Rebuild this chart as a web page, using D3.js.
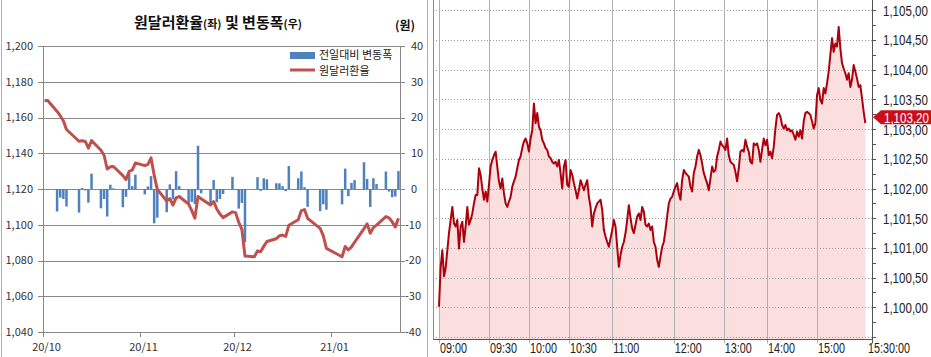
<!DOCTYPE html>
<html>
<head>
<meta charset="utf-8">
<script src="https://cdn.jsdelivr.net/npm/d3@7/dist/d3.min.js"></script>
<style>
body { margin: 0; background: #fff; }
svg { display: block; }
</style>
</head>
<body>
<div id="chart"></div>
<script>
// ---- left chart: daily close (left axis) + change vs prev day (right axis)
var dates = ["2020-10-01","2020-10-02","2020-10-05","2020-10-06","2020-10-07","2020-10-08","2020-10-12","2020-10-13","2020-10-14","2020-10-15",
  "2020-10-16","2020-10-19","2020-10-20","2020-10-21","2020-10-22","2020-10-23","2020-10-26","2020-10-27","2020-10-28","2020-10-29",
  "2020-10-30","2020-11-02","2020-11-03","2020-11-04","2020-11-05","2020-11-06","2020-11-09","2020-11-10","2020-11-11","2020-11-12",
  "2020-11-13","2020-11-16","2020-11-17","2020-11-18","2020-11-19","2020-11-20","2020-11-23","2020-11-24","2020-11-25","2020-11-26",
  "2020-11-27","2020-11-30","2020-12-01","2020-12-02","2020-12-03","2020-12-04","2020-12-07","2020-12-08","2020-12-09","2020-12-10",
  "2020-12-11","2020-12-14","2020-12-15","2020-12-16","2020-12-17","2020-12-18","2020-12-21","2020-12-22","2020-12-23","2020-12-24",
  "2020-12-28","2020-12-29","2020-12-30","2021-01-04","2021-01-05","2021-01-06","2021-01-07","2021-01-08","2021-01-11","2021-01-12",
  "2021-01-13","2021-01-14","2021-01-15","2021-01-18","2021-01-19","2021-01-20","2021-01-21","2021-01-22"];
var rates = [1169.5,1169.5,1163.4,1161.0,1158.2,1153.3,1146.7,1147.0,1146.6,1142.8,
  1147.1,1141.7,1138.9,1131.2,1132.4,1132.6,1127.5,1125.3,1129.8,1130.6,
  1134.6,1133.1,1133.8,1137.4,1127.8,1119.8,1113.3,1114.6,1111.0,1115.0,
  1115.8,1111.5,1107.9,1103.7,1115.8,1114.6,1111.0,1113.0,1108.8,1106.0,
  1104.0,1107.2,1106.8,1101.4,1097.4,1082.5,1082.1,1085.4,1084.9,1087.9,
  1090.6,1092.2,1093.8,1094.2,1093.5,1099.7,1102.8,1107.9,1108.5,1103.6,
  1098.0,1093.9,1086.8,1082.1,1087.8,1085.9,1087.6,1090.2,1097.8,1100.5,
  1095.3,1098.4,1099.8,1104.6,1103.9,1101.6,1098.7,1103.6];
var changes = [null,null,-6.3,-2.4,-2.8,-4.9,-6.6,0.3,-0.4,-3.8,
  4.3,-5.4,-2.8,-7.7,1.2,0.2,-5.1,-2.2,4.5,0.8,
  4.0,-1.5,0.7,3.6,-9.6,-8.0,-6.5,1.3,-2.9,5.0,
  0.8,-4.3,-3.6,-4.2,12.1,-1.2,-4.0,2.5,-3.7,-2.8,
  -1.4,3.4,-0.3,-5.5,-3.9,-14.9,-0.2,3.3,-0.5,3.0,
  2.7,1.6,1.6,0.8,-0.6,6.4,3.0,4.9,0.5,-5.0,
  -6.2,-4.3,-5.8,-4.3,5.7,-2.0,1.7,2.5,7.5,2.8,
  -5.0,3.0,1.4,4.9,-0.7,-2.3,-2.1,5.0];
var rateTicks = [1040,1060,1080,1100,1120,1140,1160,1180,1200];
var changeTicks = [-40,-30,-20,-10,0,10,20,30,40];
var monthTicks = ["2020-10-01","2020-11-01","2020-12-01","2021-01-01"];
var monthLabels = ["20/10","20/11","20/12","21/01"];

// ---- right chart: intraday ticks, one value per tick step
var prices = [1100.01,1100.68,1100.96,1100.52,1100.66,1100.96,1101.25,1101.47,1101.69,1101.41,
  1101.36,1101.47,1100.99,1101.36,1101.44,1101.10,1101.36,1101.69,1101.39,1101.47,
  1101.58,1101.75,1101.89,1101.89,1102.34,1102.23,1102.00,1101.81,1101.95,1101.78,
  1102.06,1102.37,1102.48,1102.56,1102.62,1102.37,1102.12,1102.00,1102.17,1101.92,
  1101.75,1101.69,1101.78,1101.86,1102.03,1102.12,1102.20,1102.34,1102.48,1102.54,
  1102.68,1102.79,1102.84,1102.76,1102.62,1102.84,1102.98,1103.43,1103.10,1103.27,
  1103.04,1102.98,1102.82,1102.76,1102.68,1102.65,1102.54,1102.51,1102.45,1102.42,
  1102.45,1102.37,1102.48,1102.26,1102.00,1102.37,1102.48,1102.06,1102.03,1102.31,
  1102.23,1102.09,1101.97,1101.83,1101.97,
  1102.14,1102.06,1101.97,1102.06,1102.14,1101.86,1101.69,1101.36,1101.58,1101.67,
  1101.75,1101.78,1101.81,1101.64,1101.30,1101.19,1101.10,1101.02,1101.16,1101.30,
  1101.47,1101.36,1101.02,1100.68,1100.88,1101.02,1101.10,1101.25,1101.47,1101.72,
  1101.50,1101.33,1101.25,1101.39,1101.53,1101.58,1101.47,1101.69,1101.61,1101.39,
  1101.36,1101.41,1101.30,1101.36,1101.10,1101.02,1100.80,1100.68,1100.85,1101.02,
  1101.10,1101.30,1101.53,1101.75,1101.83,1101.86,1101.95,1102.03,1102.09,1101.92,
  1101.81,1102.14,1102.31,1102.26,1102.23,1102.20,1102.03,1101.95,1102.26,1102.37,
  1102.54,1102.65,1102.56,1102.42,1102.26,1102.17,1102.09,1101.97,1102.17,1102.37,
  1102.28,1102.31,1102.54,1102.65,1102.79,1102.73,1102.70,1102.65,
  1102.84,1102.56,1102.45,1102.42,1102.40,1102.28,1102.12,1102.34,1102.62,1102.65,
  1102.62,1102.82,1102.70,1102.62,1102.45,1102.42,1102.76,1102.73,1102.76,1102.65,
  1102.45,1102.65,1102.84,1102.73,1102.82,1102.56,1102.62,1102.51,1102.70,1103.01,
  1103.24,1103.27,1103.21,1103.07,1103.01,1103.07,1102.98,1103.01,1102.96,1102.98,
  1102.90,1102.82,1102.96,1102.87,1102.98,1102.84,1103.13,1103.27,1103.29,1103.27,
  1103.24,1103.13,1103.01,1103.10,1103.57,1103.69,1103.49,1103.43,1103.69,1103.60,
  1103.77,1103.97,1104.25,1104.53,1104.30,1104.44,1104.39,1104.72,1104.36,1104.11,
  1104.02,1103.94,1103.83,1103.94,1103.71,1103.83,1104.08,1103.97,1103.85,1103.71,
  1103.74,1103.52,1103.29,1103.10];
var timeLabels = ["09:00","09:30","10:00","10:30","11:00","12:00","13:00","14:00","15:00","15:30:00"];
var timeTickIdx = [0,30,54,78,104,141,171,197,227,260];
var priceTicks = [1100,1100.5,1101,1101.5,1102,1102.5,1103,1103.5,1104,1104.5,1105];
var lastPrice = 1103.20;

var width = 931, height = 357;
var svg = d3.select("#chart").append("svg")
    .attr("width", width)
    .attr("height", height);

var krFont = "'Noto Sans CJK KR', 'Noto Sans', sans-serif";
var gridGray = "#878787";

// ================= left chart =================
var parse = d3.timeParse("%Y-%m-%d");
var x = d3.scaleTime().domain([parse("2020-10-01"), parse("2021-01-23")]).range([43, 400]);
var yL = d3.scaleLinear().domain([1040, 1200]).range([332, 46]);
var yR = d3.scaleLinear().domain([-40, 40]).range([332, 46]);
// bars/points sit in the middle of their day
function mid(s) { return x(d3.timeHour.offset(parse(s), 12)); }

var left = svg.append("g");

// panel border
left.append("rect")
    .attr("x", 1.5).attr("y", -2)
    .attr("width", 426).attr("height", height + 4)
    .attr("fill", "none")
    .attr("stroke", "#b0b0b0");

// horizontal grid
left.selectAll(".hgrid").data(rateTicks).enter()
    .append("line")
    .attr("x1", 38).attr("x2", 405)
    .attr("y1", function(d) { return Math.round(yL(d)) + 0.5; })
    .attr("y2", function(d) { return Math.round(yL(d)) + 0.5; })
    .attr("stroke", gridGray);

// axis lines
left.append("line")
    .attr("x1", 43.5).attr("x2", 43.5)
    .attr("y1", yL(1200)).attr("y2", yL(1040) + 5)
    .attr("stroke", gridGray);
left.append("line")
    .attr("x1", 400.5).attr("x2", 400.5)
    .attr("y1", yL(1200)).attr("y2", yL(1040))
    .attr("stroke", gridGray);

// month ticks
left.selectAll(".mtick").data(monthTicks).enter()
    .append("line")
    .attr("x1", function(d) { return Math.round(x(parse(d))) + 0.5; })
    .attr("x2", function(d) { return Math.round(x(parse(d))) + 0.5; })
    .attr("y1", yL(1040)).attr("y2", yL(1040) + 5)
    .attr("stroke", gridGray);

left.selectAll(".mlabel").data(monthTicks).enter()
    .append("text")
    .attr("x", function(d) { return x(parse(d)) + 3.5; })
    .attr("y", 351)
    .attr("text-anchor", "middle")
    .attr("font-family", krFont)
    .attr("font-size", "11px")
    .attr("fill", "#333")
    .text(function(d, i) { return monthLabels[i]; });

// left axis labels
left.selectAll(".llabel").data(rateTicks).enter()
    .append("text")
    .attr("x", 33)
    .attr("y", function(d) { return yL(d); })
    .attr("dy", "0.35em")
    .attr("text-anchor", "end")
    .attr("font-family", krFont)
    .attr("font-size", "11px")
    .attr("fill", "#333")
    .text(d3.format(","));

// right axis labels, minus sign hangs out to the left
left.selectAll(".rlabel").data(changeTicks).enter()
    .append("text")
    .attr("x", function(d) { return d < 0 ? 405 : 411; })
    .attr("y", function(d) { return yR(d); })
    .attr("dy", "0.35em")
    .attr("font-family", krFont)
    .attr("font-size", "11px")
    .attr("fill", "#333")
    .text(function(d) { return d; });

// bars
left.selectAll(".bar").data(changes.map(function(c, i) { return {d: dates[i], v: c}; })
        .filter(function(o) { return o.v !== null; }))
    .enter()
    .append("rect")
    .attr("x", function(o) { return mid(o.d) - 1.25; })
    .attr("width", 2.5)
    .attr("y", function(o) { return Math.min(yR(o.v), yR(0)); })
    .attr("height", function(o) { return Math.abs(yR(o.v) - yR(0)); })
    .attr("fill", "#4f81bd");

// rate line
var rateLine = d3.line()
    .x(function(d, i) { return mid(dates[i]); })
    .y(function(d) { return yL(d); });
left.append("path")
    .datum(rates)
    .attr("d", rateLine)
    .attr("fill", "none")
    .attr("stroke", "#c0504d")
    .attr("stroke-width", 3)
    .attr("stroke-linejoin", "round");

// title
var title = left.append("text")
    .attr("x", 218).attr("y", 28)
    .attr("text-anchor", "middle")
    .attr("font-family", krFont)
    .attr("font-weight", "bold")
    .attr("fill", "#111");
title.append("tspan").attr("font-size", "15px").text("원달러환율");
title.append("tspan").attr("font-size", "11px").text("(좌)");
title.append("tspan").attr("font-size", "15px").text(" 및 변동폭");
title.append("tspan").attr("font-size", "11px").text("(우)");

left.append("text")
    .attr("x", 405).attr("y", 30)
    .attr("text-anchor", "middle")
    .attr("font-family", krFont)
    .attr("font-weight", "bold")
    .attr("font-size", "12px")
    .attr("fill", "#111")
    .text("(원)");

// legend
left.append("rect")
    .attr("x", 290).attr("y", 52)
    .attr("width", 25).attr("height", 7)
    .attr("fill", "#4f81bd");
left.append("line")
    .attr("x1", 290).attr("x2", 315)
    .attr("y1", 70).attr("y2", 70)
    .attr("stroke", "#c0504d")
    .attr("stroke-width", 3);
left.append("text")
    .attr("x", 319).attr("y", 59)
    .attr("font-family", krFont).attr("font-size", "11px").attr("fill", "#222")
    .text("전일대비 변동폭");
left.append("text")
    .attr("x", 319).attr("y", 75)
    .attr("font-family", krFont).attr("font-size", "11px").attr("fill", "#222")
    .text("원달러환율");

// ================= right chart =================
var xt = d3.scaleLinear().domain([0, 260]).range([439, 872]);
var yp = d3.scaleLinear().domain([1099.5, 1105]).range([337, 10.3]);
var axisY = 339.5;
var right = svg.append("g");
var numFont = "'Liberation Sans', Arial, sans-serif";

// fill under the price
var area = d3.area()
    .x(function(d, i) { return xt(i); })
    .y0(axisY)
    .y1(function(d) { return yp(d); });
right.append("path")
    .datum(prices)
    .attr("d", area)
    .attr("fill", "#fbdede");

// dotted horizontal grid
right.selectAll(".pgrid").data([1099.5].concat(priceTicks)).enter()
    .append("line")
    .attr("x1", 433).attr("x2", 872)
    .attr("y1", function(d) { return Math.round(yp(d)) + 0.5; })
    .attr("y2", function(d) { return Math.round(yp(d)) + 0.5; })
    .attr("stroke", "#9a9a9a")
    .attr("stroke-dasharray", "1,2");

// vertical grid at the time labels
right.selectAll(".tgrid").data(timeTickIdx.slice(0, -1)).enter()
    .append("line")
    .attr("x1", function(d) { return Math.round(xt(d)) + 0.5; })
    .attr("x2", function(d) { return Math.round(xt(d)) + 0.5; })
    .attr("y1", 0).attr("y2", axisY + 4)
    .attr("stroke", "#aeb1b6");

// frame
right.append("line")
    .attr("x1", 433.5).attr("x2", 433.5)
    .attr("y1", 0).attr("y2", axisY)
    .attr("stroke", "#8a8f96");
right.append("line")
    .attr("x1", 433).attr("x2", 872)
    .attr("y1", axisY).attr("y2", axisY)
    .attr("stroke", "#555");
right.append("line")
    .attr("x1", 872.5).attr("x2", 872.5)
    .attr("y1", 0).attr("y2", axisY + 4)
    .attr("stroke", "#555");

// small ticks on the price axis, every 0.25
right.selectAll(".ptick").data(d3.range(1099.5, 1105.3, 0.25)).enter()
    .append("line")
    .attr("x1", 872).attr("x2", 876)
    .attr("y1", function(d) { return Math.round(yp(d)) + 0.5; })
    .attr("y2", function(d) { return Math.round(yp(d)) + 0.5; })
    .attr("stroke", "#555");

// price line
var priceLine = d3.line()
    .x(function(d, i) { return xt(i); })
    .y(function(d) { return yp(d); });
right.append("path")
    .datum(prices)
    .attr("d", priceLine)
    .attr("fill", "none")
    .attr("stroke", "#ad000d")
    .attr("stroke-width", 2)
    .attr("stroke-linejoin", "round");

// condensed numbers: squeeze horizontally with a transform so boxes stay true
var K = 0.77;
function numText(g, px, py, str, size, color) {
    return g.append("text")
        .attr("transform", "translate(" + px + "," + py + ") scale(" + K + ",1)")
        .attr("dy", "0.36em")
        .attr("font-family", numFont)
        .attr("font-size", size)
        .attr("fill", color)
        .text(str);
}
var priceFmt = function(v) { return d3.format(",.2f")(v).replace(".", ","); };

priceTicks.forEach(function(d) {
    numText(right, 883, yp(d), priceFmt(d), "15px", "#222");
});

timeTickIdx.forEach(function(d, i) {
    var px = i === timeTickIdx.length - 1 ? xt(d) - 4 : xt(d) + 1;
    numText(right, px, 348, timeLabels[i], "14px", "#222");
});

// current price flag
var fy = yp(lastPrice);
right.append("path")
    .attr("d", "M873," + fy + "L881," + (fy - 7) + "L931," + (fy - 7) + "L931," + (fy + 7) + "L881," + (fy + 7) + "Z")
    .attr("fill", "#c8101c");
numText(right, 884, fy, priceFmt(lastPrice), "15px", "#fff");
</script>
</body>
</html>
